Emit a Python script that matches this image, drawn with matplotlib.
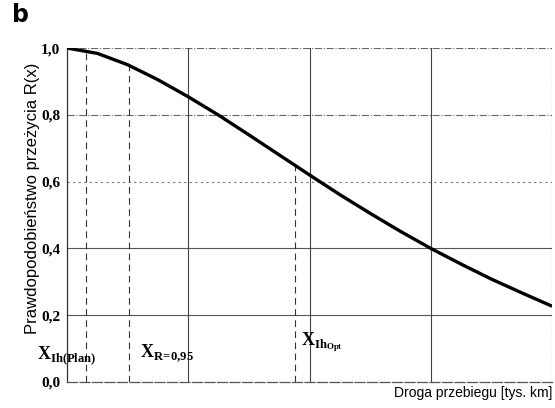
import matplotlib.pyplot as plt

# survival curve R(x) (x in grid units, 0..4)
x_vals = [0.0, 0.25, 0.5, 0.75, 1.0, 1.25, 1.5, 1.75, 2.0, 2.25, 2.5, 2.75, 3.0, 3.25, 3.5, 3.75, 4.0]
r_vals = [1.0, 0.984, 0.950, 0.905, 0.854, 0.799, 0.740, 0.680, 0.620, 0.561, 0.505, 0.451, 0.400, 0.353, 0.308, 0.267, 0.227]

# dashed markers: position and height where they meet the curve
mark_x = [0.157, 0.51, 1.88]
mark_top = [0.994, 0.952, 0.655]
mark_labels = [r"X$_{\mathregular{Ih(Plan)}}$", r"X$_{\mathregular{R\!=\!0{,}95}}$", r"X$_{\mathregular{Ih_{Opt}}}$"]

y_ticks = [0.0, 0.2, 0.4, 0.6, 0.8, 1.0]
y_ticklabels = ["0,0", "0,2", "0,4", "0,6", "0,8", "1,0"]

fig = plt.figure(figsize=(5.55, 4.08), dpi=100)
ax = fig.add_axes([0.1207, 0.0637, 0.874, 0.8186])

# grid
for yv in [0.2, 0.4]:
  ax.axhline(yv, color="#555555", lw=0.8, zorder=1)
ax.axhline(0.6, color="#777777", lw=0.8, ls=(0, (2, 3)), zorder=1)
ax.axhline(0.8, color="#666666", lw=0.8, ls="-.", zorder=1)
ax.axhline(1.0, color="#666666", lw=0.8, ls="-.", zorder=1)
for xv in [1, 2, 3]:
  ax.axvline(xv, color="#444444", lw=0.8, zorder=1)
ax.axvline(4, color="#666666", lw=0.8, ls="-.", zorder=1)

# dashed markers
for mx, mt in zip(mark_x, mark_top):
  ax.plot([mx, mx], [0, mt], color="#333333", lw=0.8, ls=(0, (6, 4)), zorder=2)

ax.plot(x_vals, r_vals, color="black", lw=2.4, zorder=3, solid_capstyle="butt")

ax.set_xlim(0, 4)
ax.set_ylim(0, 1.0)
ax.set_xticks([])
ax.set_yticks(y_ticks)
ax.set_yticklabels(y_ticklabels, family="Liberation Serif", fontweight="bold", fontsize=11)
ax.tick_params(axis="y", length=0, pad=5)
for s in ["top", "right"]:
  ax.spines[s].set_visible(False)
ax.spines["left"].set_color("#333333")
ax.spines["left"].set_linewidth(0.9)
ax.spines["bottom"].set_color("#555555")
ax.spines["bottom"].set_linestyle((0, (8, 2)))
ax.spines["bottom"].set_linewidth(0.9)

# marker labels
lab_pos = [(-0.25, 0.08), (0.6, 0.085), (1.93, 0.12)]
for (lx, ly), txt in zip(lab_pos, mark_labels):
  ax.text(lx, ly, txt, family="Liberation Serif", fontweight="bold", fontsize=13,
          ha="left", va="center", clip_on=False)

ax.set_ylabel("Prawdopodobieństwo przeżycia R(x)", family="Liberation Sans", fontsize=12)
ax.yaxis.set_label_coords(-0.056, 0.55)
fig.text(0.9946, 0.037, "Droga przebiegu [tys. km]", family="Liberation Sans", fontsize=10,
         ha="right", va="center")
fig.text(0.022, 0.963, "b", family="DejaVu Sans", fontweight="bold", fontsize=17,
         ha="left", va="center")

plt.savefig("out.png", dpi=100)
